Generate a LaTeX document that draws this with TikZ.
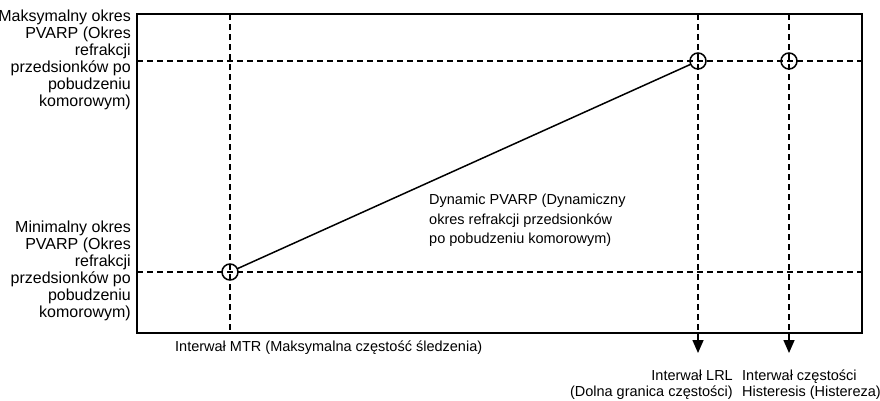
\documentclass[tikz,border=0pt]{standalone}
\usepackage{fontspec}
\setmainfont{Liberation Sans}
\usepackage{tikz}
\usetikzlibrary{arrows.meta, positioning}

\begin{document}
\begin{tikzpicture}[x=1pt, y=1pt]

\tikzset{
  frame/.style    = {draw=black, line width=2pt},
  guide/.style    = {draw=black, line width=1.5pt, dash pattern=on 6pt off 4pt},
  marker/.style   = {circle, draw=black, line width=1.5pt, minimum size=16pt,
                     inner sep=0pt},
  curve/.style    = {draw=black, line width=1.5pt},
  arr/.style      = {-{Triangle[length=13pt,width=11pt]}, line width=1.5pt, black},
  lbl/.style      = {inner sep=0pt, font=\fontsize{14.5}{17}\selectfont, text=black},
  sidelbl/.style  = {lbl, align=right, anchor=north east,
                     font=\fontsize{16}{17}\selectfont}
}

\useasboundingbox (0,0) rectangle (880,-400);

%% ── Frame corners and markers ──────────────────────────────────
\coordinate (frameNW) at (137,-14);
\coordinate (frameSE) at (862,-333);

\node[marker] (mtr) at (230,-272) {};
\node[marker] (lrl) at (698,-61)  {};
\node[marker] (hys) at (789,-61)  {};

%% ── Dashed guides ───────────────────────────────────────────────
\draw[guide] (frameNW |- lrl) -- (frameSE |- lrl);
\draw[guide] (frameNW |- mtr) -- (frameSE |- mtr);
\draw[guide] (mtr |- frameNW) -- (mtr |- frameSE);
\draw[guide] (lrl |- frameNW) -- (lrl |- frameSE);
\draw[guide] (hys |- frameNW) -- (hys |- frameSE);

%% ── Frame ───────────────────────────────────────────────────────
\draw[frame] (frameNW) rectangle (frameSE);

%% ── Dynamic PVARP line ──────────────────────────────────────────
\draw[curve] (mtr) -- (lrl);

%% ── Arrows below frame ──────────────────────────────────────────
\coordinate (lrlend) at (698,-353);
\coordinate (hysend) at (789,-353);
\draw[arr] (lrl |- frameSE) -- (lrlend);
\draw[arr] (hys |- frameSE) -- (hysend);

%% ── Side labels ─────────────────────────────────────────────────
\node[sidelbl] (maxlbl) at (131,-10)
      {Maksymalny okres\\PVARP (Okres\\refrakcji\\przedsionków po\\pobudzeniu\\komorowym)};
\node[sidelbl] (minlbl) at (131,-221)
      {Minimalny okres\\PVARP (Okres\\refrakcji\\przedsionków po\\pobudzeniu\\komorowym)};

%% ── Inner and bottom labels ─────────────────────────────────────
\node[lbl, align=left, anchor=north west,
      font=\fontsize{14.5}{19.5}\selectfont] (dynlbl) at (429,-194)
      {Dynamic PVARP (Dynamiczny\\okres refrakcji przedsionków\\po pobudzeniu komorowym)};
\node[lbl, anchor=north west] (mtrlbl) at (175,-341)
      {Interwał MTR (Maksymalna częstość śledzenia)};
\node[lbl, align=right, anchor=north east,
      font=\fontsize{14.5}{15.5}\selectfont] (lrllbl) at (733,-370)
      {Interwał LRL\\(Dolna granica częstości)};
\node[lbl, align=left, anchor=north west,
      font=\fontsize{14.5}{15.5}\selectfont] (hyslbl) at (742,-370)
      {Interwał częstości\\Histeresis (Histereza)};

\end{tikzpicture}
\end{document}
